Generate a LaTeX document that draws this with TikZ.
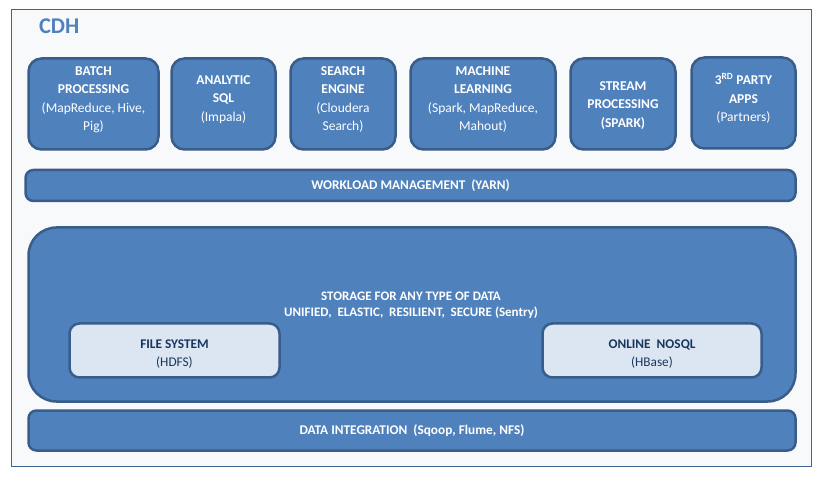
\documentclass[tikz,border=0pt]{standalone}
\usepackage{fontspec}
\setmainfont{Carlito}
\usetikzlibrary{positioning}
\definecolor{cdhblue}{RGB}{79,129,189}
\definecolor{cdhdark}{RGB}{56,93,138}
\definecolor{cdhlight}{RGB}{220,230,242}
\definecolor{cdhnavy}{RGB}{23,55,94}
\definecolor{cdhback}{RGB}{248,249,251}
\definecolor{cdhframe}{RGB}{66,100,145}

\tikzset{
    bluebox/.style={draw=cdhdark, fill=cdhblue, line width=2.5pt, inner sep=0pt},
    appbox/.style={bluebox, rounded corners=13pt, minimum height=91pt},
    apptext/.style={text=white, align=center, inner sep=0pt, font=\fontsize{13.5}{18.5}\selectfont},
    barbox/.style={bluebox, rounded corners=8pt, text=white, font=\fontsize{13.3}{16}\selectfont\bfseries},
    storebox/.style={draw=cdhdark, fill=cdhlight, line width=2.5pt, rounded corners=10pt,
        minimum height=54pt, inner sep=0pt},
    storetext/.style={text=cdhnavy, align=center, inner sep=0pt, font=\fontsize{13.3}{18}\selectfont}
}

\begin{document}
\begin{tikzpicture}[x=1pt, y=-1pt]
    \useasboundingbox (0,0) rectangle (825,478);

    % Outer frame
    \node[draw=cdhframe, fill=cdhback, line width=1pt, minimum width=800pt, minimum height=456pt,
        inner sep=0pt] (cdh) at (411,238) {};
    \node[anchor=west, text=cdhblue, font=\fontsize{22.5}{22}\selectfont\bfseries] (cdhtitle) at (35.5,26) {CDH};

    % Application boxes
    \foreach \name/\cx/\w/\cy/\ty/\txt in {
        batch/93.5/130/104/99.5/{\textbf{BATCH}\\\textbf{PROCESSING}\\(MapReduce, Hive,\\Pig)},
        sql/223.5/104/104/99.5/{\textbf{ANALYTIC}\\\textbf{SQL}\\(Impala)},
        search/343/105/104/99.5/{\textbf{SEARCH}\\\textbf{ENGINE}\\(Cloudera\\Search)},
        ml/483/145/104/99.5/{\textbf{MACHINE}\\\textbf{LEARNING}\\(Spark, MapReduce,\\Mahout)},
        stream/623/105/104/105.5/{\textbf{STREAM}\\\textbf{PROCESSING}\\\textbf{(SPARK)}},
        partner/743.5/104/103/98.5/{\textbf{3\textsuperscript{RD} PARTY}\\\textbf{APPS}\\(Partners)}} {
        \node[appbox, minimum width=\w pt] (\name) at (\cx,\cy) {};
        \node[apptext] (\name txt) at (\cx,\ty) {\txt};
    }

    % Workload management
    \node[barbox, minimum width=770pt, minimum height=31pt] (yarn) at (410.5,185.5)
        {WORKLOAD MANAGEMENT\ \ (YARN)};

    % Storage
    \node[bluebox, rounded corners=28pt, minimum width=767pt, minimum height=174pt] (storage) at (412,314.5) {};
    \node[apptext, font=\fontsize{13}{16}\selectfont\bfseries] (storagetxt) at (411,305)
        {STORAGE FOR ANY TYPE OF DATA\\UNIFIED,\ \ ELASTIC,\ \ RESILIENT,\ \ SECURE (Sentry)};
    \node[storebox, minimum width=210pt] (hdfs) at (174.5,350.5) {};
    \node[storetext] (hdfstxt) at (174.5,354.5) {\textbf{FILE SYSTEM}\\(HDFS)};
    \node[storebox, minimum width=219pt] (hbase) at (652,350.5) {};
    \node[storetext] (hbasetxt) at (652,354.5) {\textbf{ONLINE\ \ NOSQL}\\(HBase)};

    % Data integration
    \node[barbox, minimum width=767pt, minimum height=40pt] (ingest) at (412,430.5)
        {DATA INTEGRATION\ \ (Sqoop, Flume, NFS)};
\end{tikzpicture}
\end{document}
